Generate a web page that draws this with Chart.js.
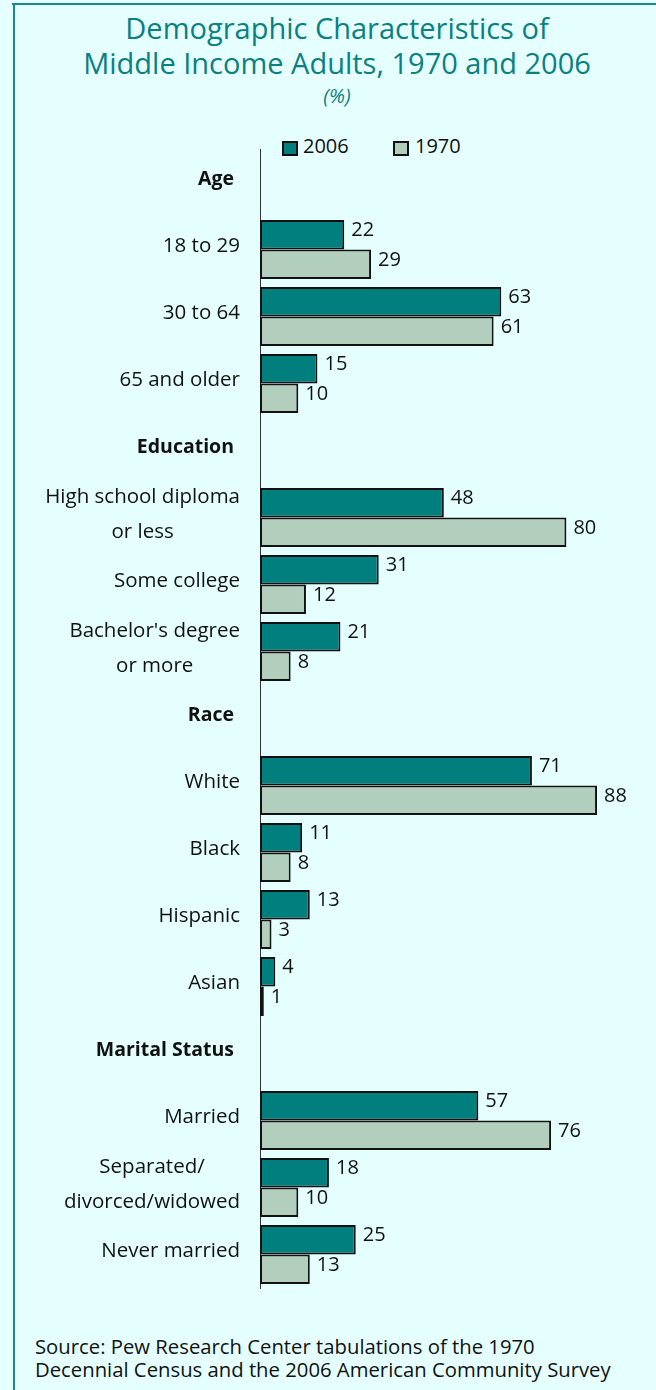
<!DOCTYPE html>
<html>
<head>
<meta charset="utf-8">
<script src="https://cdn.jsdelivr.net/npm/chart.js@4/dist/chart.umd.min.js"></script>
<style>
  html, body { margin: 0; padding: 0; }
  body {
    width: 656px; height: 1390px; position: relative; overflow: hidden;
    background: #E5FFFF; font-family: "Open Sans", sans-serif; color: #111;
  }
  .frame-top { position: absolute; left: 12px; top: 3px; width: 644px; height: 2px; background: #1C8A8A; }
  .frame-left { position: absolute; left: 13px; top: 3px; width: 2px; height: 1387px; background: #1C8A8A; }
  .title {
    position: absolute; left: 0; top: 11px; width: 674px; text-align: center;
    color: #0A8080; font-size: 29px; line-height: 34.5px;
  }
  .unit {
    position: absolute; left: 0; top: 84px; width: 674px; text-align: center;
    color: #0A8080; font-size: 20px; font-style: italic; line-height: 24px;
  }
  .legend-box { position: absolute; top: 141px; width: 12px; height: 11px; border: 2px solid #111; }
  .legend-text { position: absolute; top: 133px; font-size: 20px; line-height: 26px; }
  .source {
    position: absolute; left: 35px; top: 1335px; font-size: 20.3px; line-height: 23px; color: #111;
    white-space: nowrap;
  }
  canvas { position: absolute; left: 0; top: 130px; }
</style>
</head>
<body>
<div class="frame-top"></div>
<div class="frame-left"></div>
<div class="title">Demographic Characteristics of<br>Middle Income Adults, 1970 and 2006</div>
<div class="unit">(%)</div>
<div class="legend-box" style="left:282px;background:#007F7F"></div>
<div class="legend-text" style="left:303px">2006</div>
<div class="legend-box" style="left:393px;background:#B2CEBD"></div>
<div class="legend-text" style="left:415px">1970</div>
<canvas id="chart" width="656" height="1170"></canvas>
<div class="source">Source: Pew Research Center tabulations of the 1970<br>Decennial Census and the 2006 American Community Survey</div>

<script>
// categorias (los encabezados de grupo no llevan barras)
const categories = [
  'Age', '18 to 29', '30 to 64', '65 and older',
  'Education', ['High school diploma', 'or less'], 'Some college', ["Bachelor's degree", 'or more'],
  'Race', 'White', 'Black', 'Hispanic', 'Asian',
  'Marital Status', 'Married', ['Separated/', 'divorced/widowed'], 'Never married'
];
const headings = ['Age', 'Education', 'Race', 'Marital Status'];

const values2006 = [null, 22, 63, 15, null, 48, 31, 21, null, 71, 11, 13, 4, null, 57, 18, 25];
const values1970 = [null, 29, 61, 10, null, 80, 12, 8, null, 88, 8, 3, 1, null, 76, 10, 13];

const FONT = '"Open Sans", sans-serif';

// etiquetas del eje y: bloque alineado a la derecha, lineas centradas
const categoryLabels = {
  id: 'categoryLabels',
  afterDraw(chart) {
    const ctx = chart.ctx;
    const y = chart.scales.y;
    ctx.save();
    ctx.fillStyle = '#111';
    ctx.textBaseline = 'middle';
    categories.forEach((label, i) => {
      const cy = y.getPixelForValue(i) - 3;
      if (headings.includes(label)) {
        ctx.font = 'bold 19.5px ' + FONT;
        ctx.textAlign = 'right';
        ctx.fillText(label, 234, cy);
        return;
      }
      ctx.font = '20.5px ' + FONT;
      const lines = Array.isArray(label) ? label : [label];
      const widest = Math.max(...lines.map(l => ctx.measureText(l).width));
      const cx = 240 - widest / 2;
      const lh = 35;
      ctx.textAlign = 'center';
      lines.forEach((line, k) => {
        ctx.fillText(line, cx, cy + (k - (lines.length - 1) / 2) * lh);
      });
    });
    ctx.restore();
  }
};

// valores al final de cada barra
const valueLabels = {
  id: 'valueLabels',
  afterDatasetsDraw(chart) {
    const ctx = chart.ctx;
    ctx.save();
    ctx.font = '20px ' + FONT;
    ctx.fillStyle = '#111';
    ctx.textAlign = 'left';
    ctx.textBaseline = 'middle';
    chart.data.datasets.forEach((ds, di) => {
      chart.getDatasetMeta(di).data.forEach((bar, i) => {
        const v = ds.data[i];
        if (v === null) return;
        ctx.fillText(String(v), bar.x + 7, bar.y - 4);
      });
    });
    ctx.restore();
  }
};

new Chart(document.getElementById('chart'), {
  type: 'bar',
  data: {
    labels: categories,
    datasets: [
      {
        label: '2006',
        data: values2006,
        backgroundColor: '#007F7F',
        borderColor: '#111',
        borderWidth: 2,
        borderSkipped: false,
        categoryPercentage: 0.88,
        barPercentage: 1.0
      },
      {
        label: '1970',
        data: values1970,
        backgroundColor: '#B2CEBD',
        borderColor: '#111',
        borderWidth: 2,
        borderSkipped: false,
        categoryPercentage: 0.88,
        barPercentage: 1.0
      }
    ]
  },
  options: {
    indexAxis: 'y',
    responsive: false,
    animation: false,
    layout: { padding: { top: 19, bottom: 12, left: 0, right: 13 } },
    scales: {
      x: { display: false, min: 0, max: 100 },
      y: {
        grid: { display: false },
        ticks: { display: false },
        border: { display: true, color: '#333', width: 1 },
        afterFit(scale) { scale.width = 260; }
      }
    },
    plugins: {
      legend: { display: false },
      tooltip: { enabled: false }
    }
  },
  plugins: [categoryLabels, valueLabels]
});
</script>
</body>
</html>
